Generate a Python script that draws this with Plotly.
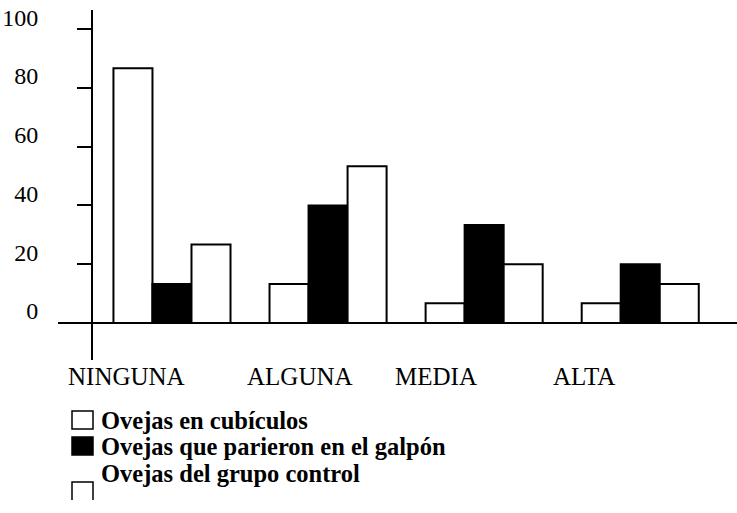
import plotly.graph_objects as go

categories = ["NINGUNA", "ALGUNA", "MEDIA", "ALTA"]
series_names = ["Ovejas en cubículos", "Ovejas que parieron en el galpón", "Ovejas del grupo control"]
cubiculos = [86.7, 13.3, 6.7, 6.7]
galpon = [13.3, 40.0, 33.3, 20.0]
control = [26.7, 53.3, 20.0, 13.3]
y_ticks = [0, 20, 40, 60, 80, 100]

values = [cubiculos, galpon, control]
fills = ["white", "black", "white"]

SERIF = "Liberation Serif"

# plot area in screenshot pixels
PX_L, PX_R, PX_T, PX_B = 93, 737, 10, 360
W, H = 737, 513


def px_x(x):
    return (x - PX_L) / (PX_R - PX_L)


def px_y(y):
    return (PX_B - y) / (PX_B - PX_T)


fig = go.Figure()
for name, vals, fc in zip(series_names, values, fills):
    fig.add_trace(go.Bar(
        x=categories, y=vals, name=name, showlegend=False,
        marker=dict(color=fc, line=dict(color="black", width=2)),
    ))

fig.update_layout(
    width=W, height=H,
    margin=dict(l=PX_L, r=W - PX_R, t=PX_T, b=H - PX_B, pad=0),
    paper_bgcolor="white", plot_bgcolor="white",
    barmode="group", bargap=0.25, bargroupgap=0,
    showlegend=False,
    font=dict(family=SERIF, color="black"),
)

fig.update_xaxes(
    type="category", range=[-0.506, 3.62],
    showline=False, showgrid=False, zeroline=False, ticks="",
    showticklabels=False,
)
fig.update_yaxes(
    range=[-12.6, 106.5], tickvals=y_ticks,
    showline=True, linecolor="black", linewidth=2,
    ticks="outside", ticklen=14, tickwidth=2, tickcolor="black",
    showgrid=False, zeroline=False,
    tickfont=dict(family=SERIF, size=24, color="black"),
    ticklabelstandoff=34, ticklabelshift=-12, ticklabeloverflow="allow",
)

# category labels (placed slightly left of each group, as in the original)
label_shifts = [-45, -28, -48, -56]
for cat, dx in zip(categories, label_shifts):
    fig.add_annotation(x=cat, xref="x", y=px_y(376), yref="paper",
                       xanchor="center", yanchor="middle", xshift=dx,
                       showarrow=False, text=cat,
                       font=dict(family=SERIF, size=25, color="black"))

# baseline at zero, extending slightly left of the vertical axis
fig.add_shape(type="line", xref="paper", yref="y", x0=px_x(58), x1=1, y0=0, y1=0,
              line=dict(color="black", width=2), layer="above")

# manual legend
line_centers = [420, 446.5, 473]
swatch_boxes = [(72, 411, 93, 429), (72, 437, 93, 455)]
for name, fc, yc in zip(series_names, fills, line_centers):
    fig.add_annotation(xref="paper", yref="paper", x=px_x(99), y=px_y(yc),
                       xanchor="left", yanchor="middle", showarrow=False,
                       text=f"<b>{name}</b>",
                       font=dict(family=SERIF, size=24.5, color="black"))
for fc, (sx0, sy0, sx1, sy1) in zip(fills[:2], swatch_boxes):
    fig.add_shape(type="rect", xref="paper", yref="paper",
                  x0=px_x(sx0), x1=px_x(sx1), y0=px_y(sy0), y1=px_y(sy1),
                  fillcolor=fc, line=dict(color="black", width=1.5))
# third swatch is open at the bottom in the original
sx0, sy0, sx1, sy1 = 72, 482, 93, 500
fig.add_shape(type="path", xref="paper", yref="paper",
              path=(f"M {px_x(sx0)},{px_y(sy1)} L {px_x(sx0)},{px_y(sy0)} "
                    f"L {px_x(sx1)},{px_y(sy0)} L {px_x(sx1)},{px_y(sy1)}"),
              line=dict(color="black", width=1.5))

fig.write_html("out.html", post_script="document.body.style.margin='0';",
               config={"displayModeBar": False})
